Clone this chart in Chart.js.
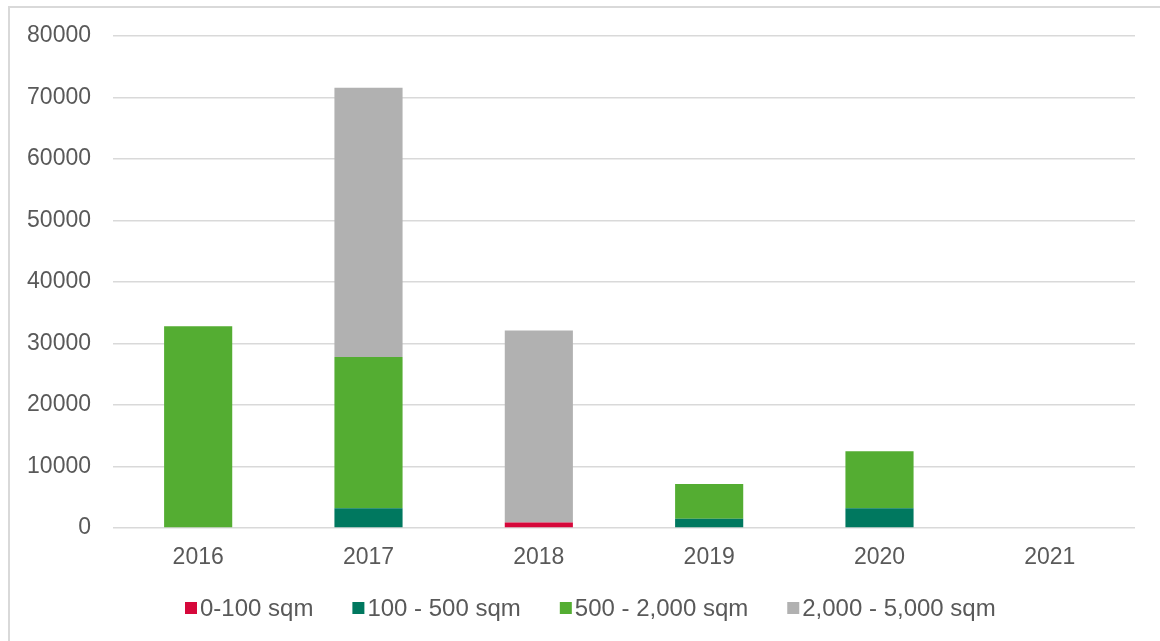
<!DOCTYPE html>
<html>
<head>
<meta charset="utf-8">
<script src="https://cdn.jsdelivr.net/npm/chart.js@4"></script>
<style>
  html, body { margin: 0; padding: 0; background: #ffffff; }
  #wrap { position: relative; width: 1160px; height: 641px; overflow: hidden; }
  #frame { position: absolute; left: 8px; top: 6px; width: 1200px; height: 700px; border-left: 2px solid #D9D9D9; border-top: 2px solid #D9D9D9; box-sizing: border-box; }
  canvas { position: absolute; left: 0; top: 0; }
</style>
</head>
<body>
<div id="wrap">
  <div id="frame"></div>
  <canvas id="c" width="1160" height="641"></canvas>
</div>
<script>
const years = ['2016', '2017', '2018', '2019', '2020', '2021'];
const seriesNames = ['0-100 sqm', '100 - 500 sqm', '500 - 2,000 sqm', '2,000 - 5,000 sqm'];
const s0to100 = [0, 0, 900, 0, 0, 0];
const s100to500 = [0, 3200, 0, 1500, 3200, 0];
const s500to2000 = [32800, 24600, 0, 5650, 9300, 0];
const s2000to5000 = [0, 43800, 31200, 0, 0, 0];
const yTickValues = [0, 10000, 20000, 30000, 40000, 50000, 60000, 70000, 80000];

const colors = ['#D6083B', '#00785F', '#54AD32', '#B1B1B1'];
const textColor = '#595959';
const fontFamily = '"Liberation Sans", Arial, sans-serif';

const legendPlugin = {
  id: 'customLegend',
  afterDraw(chart) {
    const ctx = chart.ctx;
    ctx.save();
    ctx.font = '24px ' + fontFamily;
    ctx.textBaseline = 'middle';
    ctx.textAlign = 'left';
    let x = 185;
    const cy = 608;
    chart.data.datasets.forEach((ds, i) => {
      ctx.fillStyle = ds.backgroundColor;
      ctx.fillRect(x, cy - 6, 12, 12);
      ctx.fillStyle = textColor;
      ctx.fillText(ds.label, x + 15, cy + 1);
      x += 15 + ctx.measureText(ds.label).width + 39;
    });
    ctx.restore();
  }
};

new Chart(document.getElementById('c'), {
  type: 'bar',
  data: {
    labels: years,
    datasets: [
      { label: seriesNames[0], data: s0to100, backgroundColor: colors[0] },
      { label: seriesNames[1], data: s100to500, backgroundColor: colors[1] },
      { label: seriesNames[2], data: s500to2000, backgroundColor: colors[2] },
      { label: seriesNames[3], data: s2000to5000, backgroundColor: colors[3] }
    ]
  },
  options: {
    responsive: false,
    animation: false,
    devicePixelRatio: 1,
    layout: { padding: { left: 0, right: 25, top: 36, bottom: 0 } },
    datasets: { bar: { barPercentage: 0.4, categoryPercentage: 1.0, borderWidth: 0 } },
    plugins: {
      legend: { display: false },
      tooltip: { enabled: false }
    },
    scales: {
      x: {
        stacked: true,
        grid: { display: false, drawTicks: false },
        border: { display: false },
        ticks: { color: textColor, font: { family: fontFamily, size: 23 }, padding: 16 },
        afterFit(scale) { scale.height = 113; }
      },
      y: {
        stacked: true,
        min: 0,
        max: 80000,
        grid: { color: '#D9D9D9', lineWidth: 1.5, drawTicks: false },
        border: { display: false },
        afterBuildTicks(scale) { scale.ticks = yTickValues.map(v => ({ value: v })); },
        ticks: {
          color: textColor,
          font: { family: fontFamily, size: 23 },
          padding: 22,
          callback: (v) => String(v)
        },
        afterFit(scale) { scale.width = 113; }
      }
    }
  },
  plugins: [legendPlugin]
});
</script>
</body>
</html>
